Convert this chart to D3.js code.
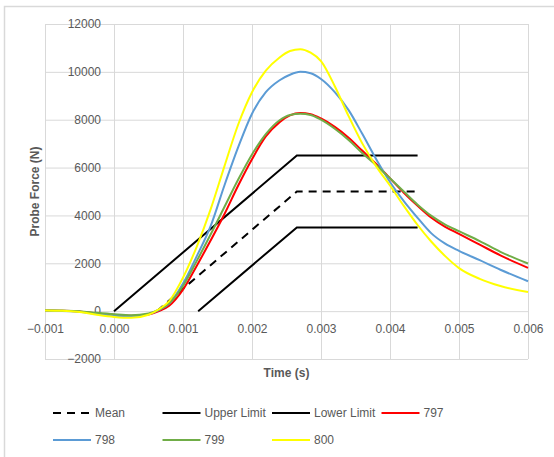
<!DOCTYPE html>
<html>
<head>
<meta charset="utf-8">
<script src="https://cdn.jsdelivr.net/npm/d3@7"></script>
<style>
  html, body { margin: 0; padding: 0; background: #fff; }
  svg { display: block; font-family: "Liberation Sans", Arial, sans-serif; }
</style>
</head>
<body>
<div id="chart"></div>
<script>
// time samples (s) shared by the four probe curves
const times = [-0.001, -0.00075, -0.0005, -0.00025, 0, 0.00025, 0.0005, 0.00065, 0.0008, 0.001,
    0.0012, 0.0014, 0.0016, 0.0018, 0.002, 0.0022, 0.0024, 0.00255, 0.0027, 0.00285,
    0.003, 0.0032, 0.0034, 0.0036, 0.0038, 0.004, 0.0042, 0.0044, 0.0046, 0.0048,
    0.005, 0.0053, 0.0056, 0.006];

const force797 = [30, 20, -20, -100, -150, -190, -140, 0, 230, 900,
    1900, 2950, 4050, 5250, 6350, 7300, 7900, 8180, 8280, 8230,
    8050, 7700, 7250, 6700, 6150, 5550, 4950, 4400, 3900, 3520,
    3230, 2780, 2330, 1810];
const force798 = [20, 10, -30, -120, -190, -220, -130, 40, 320, 1150,
    2300, 3550, 5250, 6850, 8250, 9150, 9650, 9880, 10000, 9940,
    9700, 9150, 8400, 7400, 6350, 5400, 4600, 3900, 3250, 2820,
    2520, 2130, 1730, 1250];
const force799 = [40, 25, 0, -70, -130, -170, -100, 60, 330, 1050,
    2100, 3200, 4350, 5500, 6550, 7400, 7980, 8200, 8250, 8200,
    8000, 7620, 7150, 6600, 6100, 5550, 5000, 4450, 3980, 3620,
    3340, 2930, 2480, 1990];
const force800 = [30, 15, -40, -150, -240, -280, -150, 80, 420, 1400,
    2700, 4250, 6050, 7800, 9150, 10050, 10600, 10870, 10950, 10800,
    10450, 9400, 8150, 7000, 6050, 5250, 4400, 3600, 2900, 2300,
    1800, 1350, 1050, 800];

// limit envelopes: [time, force] corner points
const meanLine = [[0.00062, 0], [0.00265, 5000], [0.0044, 5000]];
const upperLimit = [[0, 0], [0.00265, 6500], [0.0044, 6500]];
const lowerLimit = [[0.00122, 0], [0.00265, 3500], [0.0044, 3500]];

const timeTicks = [-0.001, 0, 0.001, 0.002, 0.003, 0.004, 0.005, 0.006];
const forceTicks = [-2000, 0, 2000, 4000, 6000, 8000, 10000, 12000];

const legendLabels = ["Mean", "Upper Limit", "Lower Limit", "797", "798", "799", "800"];

// Set dimensions
const width = 554;
const height = 457;
const plot = { left: 45, right: 528, top: 24, bottom: 359 };
const textColor = "#595959";
const gridColor = "#d9d9d9";

const svg = d3.select("#chart")
    .append("svg")
    .attr("width", width)
    .attr("height", height);

// chart area border (only left and top edges fall inside the picture)
svg.append("rect")
    .attr("x", 4.5)
    .attr("y", 6.5)
    .attr("width", 600)
    .attr("height", 500)
    .attr("fill", "none")
    .attr("stroke", gridColor)
    .attr("stroke-width", 1.5);

const x = d3.scaleLinear().domain([-0.001, 0.006]).range([plot.left, plot.right]);
const y = d3.scaleLinear().domain([-2000, 12000]).range([plot.bottom, plot.top]);

// Gridlines
svg.append("g")
    .attr("transform", `translate(0,${plot.bottom})`)
    .call(d3.axisBottom(x).tickValues(timeTicks).tickSize(-(plot.bottom - plot.top)).tickFormat(""))
    .call(g => g.select(".domain").remove())
    .call(g => g.selectAll("line").attr("stroke", gridColor).attr("stroke-width", 1));

svg.append("g")
    .attr("transform", `translate(${plot.left},0)`)
    .call(d3.axisLeft(y).tickValues(forceTicks).tickSize(-(plot.right - plot.left)).tickFormat(""))
    .call(g => g.select(".domain").remove())
    .call(g => g.selectAll("line").attr("stroke", gridColor).attr("stroke-width", 1));

// Axis labels sit next to the axes, which cross at (0, 0)
svg.append("g")
    .attr("transform", `translate(0,${y(0)})`)
    .call(d3.axisBottom(x).tickValues(timeTicks).tickSize(0).tickPadding(13).tickFormat(d3.format(".3f")))
    .call(g => g.select(".domain").remove())
    .call(g => g.selectAll("text")
        .attr("fill", textColor)
        .style("font-size", "12px")
        .style("font-family", "Liberation Sans, Arial, sans-serif"));

svg.append("g")
    .attr("transform", `translate(${x(0)},0)`)
    .call(d3.axisLeft(y).tickValues(forceTicks).tickSize(0).tickPadding(13).tickFormat(d3.format("d")))
    .call(g => g.select(".domain").remove())
    .call(g => g.selectAll("text")
        .attr("fill", textColor)
        .style("font-size", "12px")
        .style("font-family", "Liberation Sans, Arial, sans-serif"));

// Axis titles
svg.append("text")
    .attr("x", (plot.left + plot.right) / 2)
    .attr("y", 377)
    .attr("text-anchor", "middle")
    .attr("fill", textColor)
    .style("font-size", "12px")
    .style("font-weight", "bold")
    .text("Time (s)");

svg.append("text")
    .attr("transform", `translate(39,${(plot.top + plot.bottom) / 2}) rotate(-90)`)
    .attr("text-anchor", "middle")
    .attr("fill", textColor)
    .style("font-size", "12px")
    .style("font-weight", "bold")
    .text("Probe Force (N)");

// Series definitions
const curveSeries = [
    { name: "797", values: force797, color: "#ff0000" },
    { name: "798", values: force798, color: "#5b9bd5" },
    { name: "799", values: force799, color: "#70ad47" },
    { name: "800", values: force800, color: "#ffff00" }
];
const limitSeries = [
    { name: "Mean", points: meanLine, dash: "8,6" },
    { name: "Upper Limit", points: upperLimit, dash: null },
    { name: "Lower Limit", points: lowerLimit, dash: null }
];

const smoothLine = d3.line()
    .x(d => x(d[0]))
    .y(d => y(d[1]))
    .curve(d3.curveMonotoneX);

const straightLine = d3.line()
    .x(d => x(d[0]))
    .y(d => y(d[1]));

svg.selectAll(".limit")
    .data(limitSeries)
    .enter()
    .append("path")
    .attr("class", "limit")
    .attr("d", d => straightLine(d.points))
    .attr("fill", "none")
    .attr("stroke", "#000")
    .attr("stroke-width", 2)
    .attr("stroke-dasharray", d => d.dash);

svg.selectAll(".probe")
    .data(curveSeries)
    .enter()
    .append("path")
    .attr("class", "probe")
    .attr("d", d => smoothLine(times.map((t, i) => [t, d.values[i]])))
    .attr("fill", "none")
    .attr("stroke", d => d.color)
    .attr("stroke-width", 2);

// Legend
const legendItems = legendLabels.map(name => {
    const limit = limitSeries.find(s => s.name === name);
    const curve = curveSeries.find(s => s.name === name);
    return { name, color: curve ? curve.color : "#000", dash: limit ? limit.dash : null };
});

const legend = svg.selectAll(".legend")
    .data(legendItems)
    .enter()
    .append("g")
    .attr("class", "legend")
    .attr("transform", (d, i) => `translate(${53 + (i % 4) * 109.5},${i < 4 ? 413 : 440})`);

legend.append("line")
    .attr("x1", 0)
    .attr("x2", 38)
    .attr("stroke", d => d.color)
    .attr("stroke-width", 2)
    .attr("stroke-dasharray", d => d.dash);

legend.append("text")
    .attr("x", 42)
    .attr("dy", "0.35em")
    .attr("fill", textColor)
    .style("font-size", "12px")
    .text(d => d.name);
</script>
</body>
</html>
